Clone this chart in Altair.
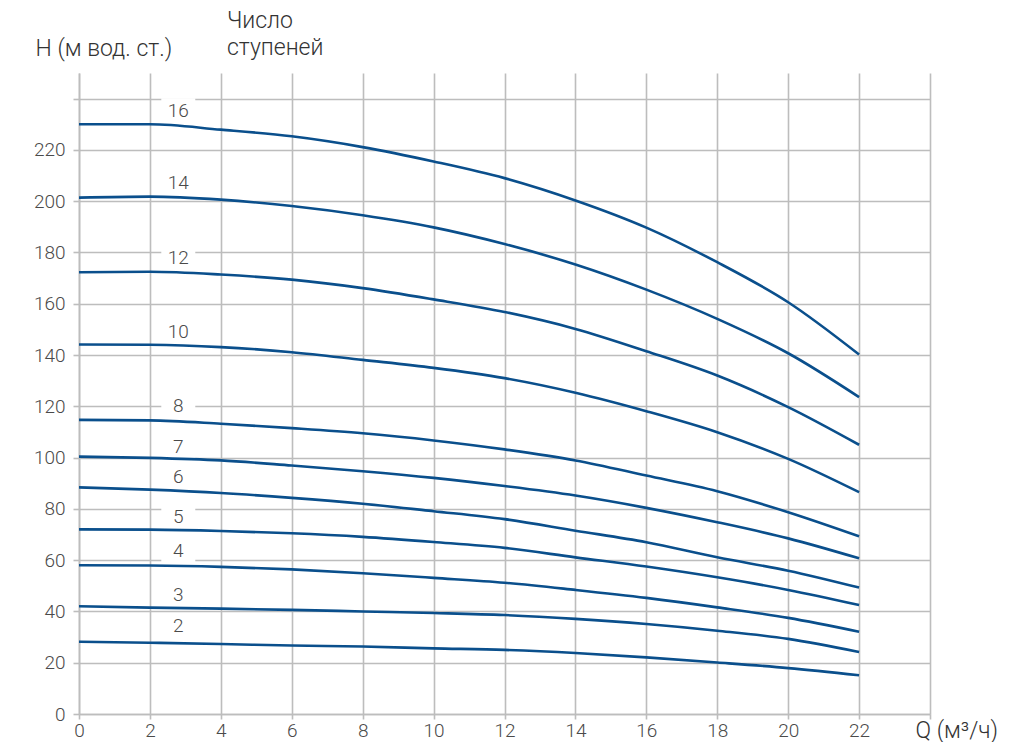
import altair as alt
import pandas as pd

q = [0, 2, 4, 6, 8, 10, 12, 14, 16, 18, 20, 22]

stages = [16, 14, 12, 10, 8, 7, 6, 5, 4, 3, 2]
h16 = [230.0, 230.0, 227.9, 225.3, 221.1, 215.5, 209.0, 200.3, 189.7, 176.2, 160.6, 140.2]
h14 = [201.4, 201.8, 200.6, 198.1, 194.5, 189.8, 183.3, 175.3, 165.5, 154.1, 140.7, 123.6]
h12 = [172.3, 172.5, 171.4, 169.4, 166.1, 161.7, 156.8, 150.2, 141.5, 132.0, 119.7, 105.0]
h10 = [144.1, 144.0, 143.1, 141.1, 138.1, 135.0, 131.0, 125.3, 118.1, 109.9, 99.5, 86.5]
h8 = [114.7, 114.5, 113.2, 111.5, 109.5, 106.7, 103.2, 98.9, 93.0, 86.9, 78.7, 69.3]
h7 = [100.4, 99.9, 98.9, 96.9, 94.7, 92.1, 88.9, 85.2, 80.4, 74.8, 68.5, 60.7]
h6 = [88.4, 87.5, 86.2, 84.3, 82.0, 79.1, 76.0, 71.5, 67.0, 61.1, 55.9, 49.3]
h5 = [72.0, 71.9, 71.4, 70.5, 69.1, 67.1, 64.8, 61.1, 57.5, 53.3, 48.4, 42.5]
h4 = [58.0, 57.9, 57.4, 56.4, 54.9, 53.1, 51.2, 48.4, 45.3, 41.6, 37.5, 32.1]
h3 = [42.0, 41.5, 41.1, 40.6, 40.0, 39.4, 38.6, 37.1, 35.1, 32.5, 29.3, 24.2]
h2 = [28.2, 27.8, 27.3, 26.7, 26.3, 25.6, 25.0, 23.8, 22.1, 20.1, 17.9, 15.1]
heads = [h16, h14, h12, h10, h8, h7, h6, h5, h4, h3, h2]

label_q = [2.8] * len(stages)
label_h = [235.3, 207.1, 178.0, 149.0, 120.3, 104.3, 92.6, 76.7, 63.5, 46.4, 34.4]

legend_title = ["Число", "ступеней"]

x_ticks = list(range(0, 25, 2))
y_ticks = list(range(0, 251, 10))

rows = []
for s, hs in zip(stages, heads):
    for qq, hh in zip(q, hs):
        rows.append({"stages": s, "Q": qq, "H": hh})
curves = pd.DataFrame(rows)
labels = pd.DataFrame({"stages": [str(s) for s in stages], "Q": label_q, "H": label_h})

FONT = "Roboto"
WEIGHT = 300
GRID = "#bdbdbd"
LINE = "#0a4f8c"
TXT = "#333333"
LBL = "#4a4a4a"

x_enc = alt.X(
    "Q:Q",
    scale=alt.Scale(domain=[0, 24], nice=False),
    axis=alt.Axis(
        values=x_ticks,
        labelExpr="datum.value <= 22 ? datum.label : ''",
        title="Q (м³/ч)",
        titleAngle=0,
        titleAlign="left",
        titleBaseline="middle",
        titleX=836,
        titleY=16,
        titleFont=FONT,
        titleFontSize=23,
        titleFontWeight=WEIGHT,
        titleColor=TXT,
        labelFont=FONT,
        labelFontSize=19,
        labelFontWeight=WEIGHT,
        labelColor=LBL,
        labelPadding=2,
        tickSize=5,
        tickColor=GRID,
        tickWidth=1.6,
        domainColor=GRID,
        domainWidth=1.6,
        grid=True,
        gridColor=GRID,
        gridWidth=1.6,
        labelFlush=False,
    ),
)
y_enc = alt.Y(
    "H:Q",
    scale=alt.Scale(domain=[0, 250], nice=False),
    axis=alt.Axis(
        values=y_ticks,
        labelExpr="(datum.value % 20 == 0 && datum.value <= 220) ? datum.label : ''",
        title="H (м вод. ст.)",
        titleAngle=0,
        titleAlign="left",
        titleBaseline="middle",
        titleX=-44,
        titleY=-25,
        titleFont=FONT,
        titleFontSize=23,
        titleFontWeight=WEIGHT,
        titleColor=TXT,
        labelFont=FONT,
        labelFontSize=19,
        labelFontWeight=WEIGHT,
        labelColor=LBL,
        labelPadding=8,
        tickSize=6,
        tickColor=GRID,
        tickWidth=1.6,
        domainColor=GRID,
        domainWidth=1.6,
        grid=True,
        gridColor=GRID,
        gridWidth=1.6,
        labelFlush=False,
    ),
)

lines = alt.Chart(curves).mark_line(
    color=LINE, strokeWidth=2.6, interpolate="monotone"
).encode(x=x_enc, y=y_enc, detail="stages:N")

boxes = alt.Chart(labels).mark_point(
    shape="M-1,-0.735H1V0.735H-1Z", filled=True, color="white", opacity=1, size=1156
).encode(x="Q:Q", y="H:Q")

texts = alt.Chart(labels).mark_text(
    font=FONT, fontSize=19, fontWeight=WEIGHT, color=LBL, baseline="middle", align="center"
).encode(x="Q:Q", y="H:Q", text="stages:N")

legend_head = alt.Chart(pd.DataFrame({"t": [0]})).mark_text(
    text=legend_title,
    font=FONT,
    fontSize=23,
    fontWeight=WEIGHT,
    color=TXT,
    align="left",
    baseline="alphabetic",
    lineHeight=27,
).encode(x=alt.value(148), y=alt.value(-45))

chart = alt.layer(boxes, lines, texts, legend_head).properties(
    width=851,
    height=641,
    autosize=alt.AutoSizeParams(type="none"),
    padding={"left": 71, "top": 65, "right": 79, "bottom": 28},
).configure_view(stroke=None)

chart.save("out.html", embed_options={"renderer": "svg", "actions": False})
